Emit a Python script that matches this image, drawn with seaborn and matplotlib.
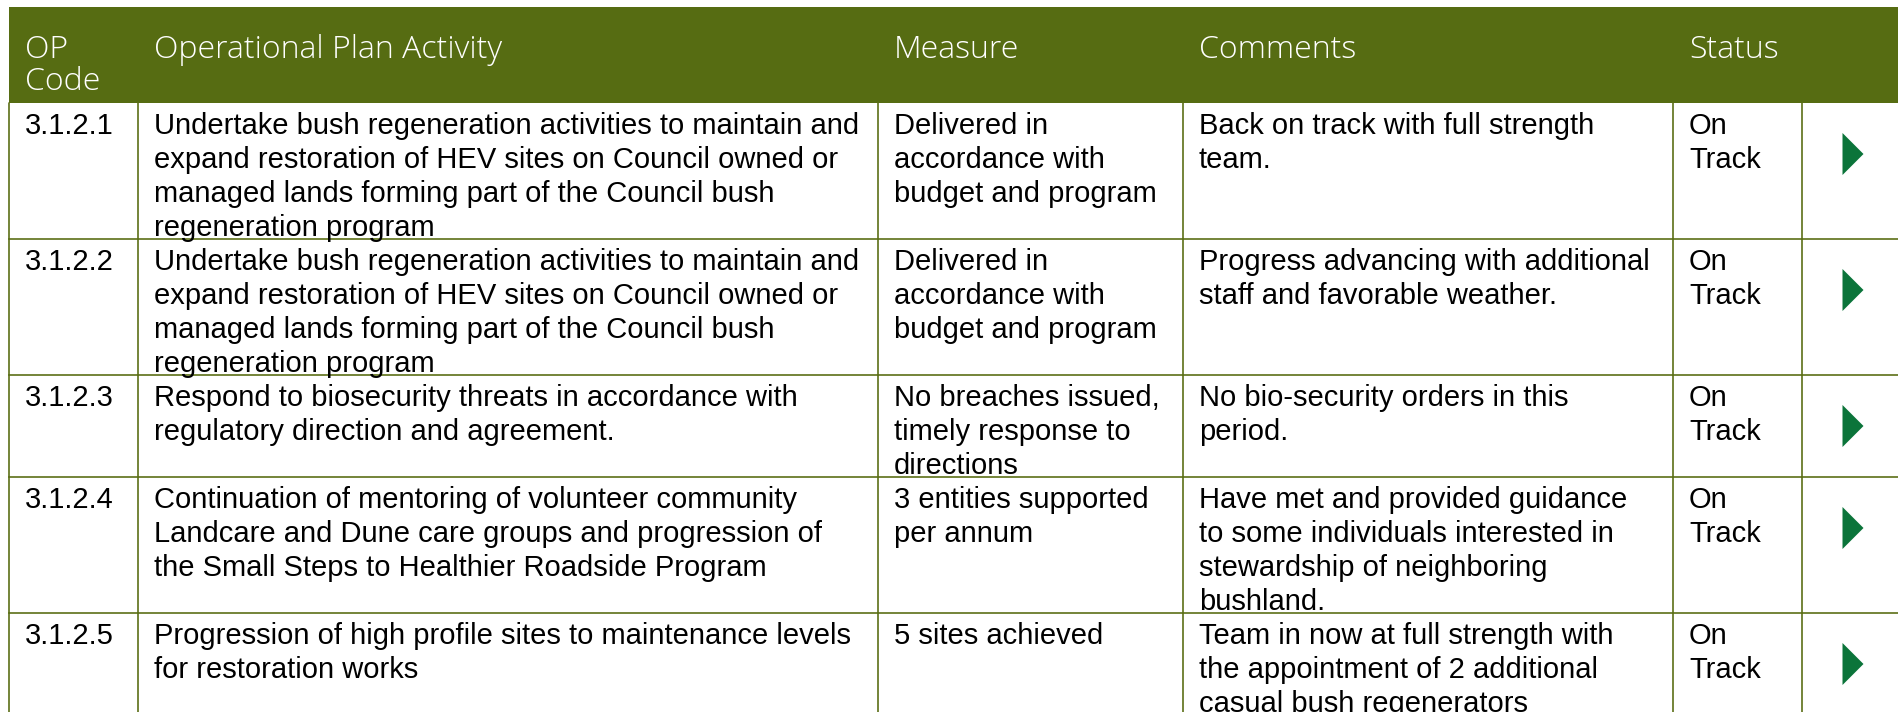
import matplotlib
matplotlib.use("Agg")
import matplotlib.pyplot as plt
import seaborn as sns
import pandas as pd

W, H = 1898, 712
HEADER_GREEN = "#566c12"
LINE_GREEN = "#5c7016"
ARROW_GREEN = "#0b743a"

# table content
headers = ["OP\nCode", "Operational Plan Activity", "Measure", "Comments", "Status"]
codes = ["3.1.2.1", "3.1.2.2", "3.1.2.3", "3.1.2.4", "3.1.2.5"]
activities = [
    "Undertake bush regeneration activities to maintain and\nexpand restoration of HEV sites on Council owned or\nmanaged lands forming part of the Council bush\nregeneration program",
    "Undertake bush regeneration activities to maintain and\nexpand restoration of HEV sites on Council owned or\nmanaged lands forming part of the Council bush\nregeneration program",
    "Respond to biosecurity threats in accordance with\nregulatory direction and agreement.",
    "Continuation of mentoring of volunteer community\nLandcare and Dune care groups and progression of\nthe Small Steps to Healthier Roadside Program",
    "Progression of high profile sites to maintenance levels\nfor restoration works",
]
measures = [
    "Delivered in\naccordance with\nbudget and program",
    "Delivered in\naccordance with\nbudget and program",
    "No breaches issued,\ntimely response to\ndirections",
    "3 entities supported\nper annum",
    "5 sites achieved",
]
comments = [
    "Back on track with full strength\nteam.",
    "Progress advancing with additional\nstaff and favorable weather.",
    "No bio-security orders in this\nperiod.",
    "Have met and provided guidance\nto some individuals interested in\nstewardship of neighboring\nbushland.",
    "Team in now at full strength with\nthe appointment of 2 additional\ncasual bush regenerators",
]
statuses = ["On\nTrack", "On\nTrack", "On\nTrack", "On\nTrack", "On\nTrack"]

# layout (pixels)
col_edges = [9, 138, 878, 1183, 1673, 1802, 1930]
pad_x = 16
header_top, header_bottom = 7, 103
line_h = 34
first_base = 31

sns.set_theme(style="white")
plt.rcParams["font.family"] = ["Liberation Sans", "DejaVu Sans"]

fig = plt.figure(figsize=(W / 100, H / 100), dpi=100)
ax = fig.add_axes([0, 0, 1, 1])

# header band
ax.fill_between([col_edges[0], W], header_top, header_bottom, color=HEADER_GREEN, lw=0)
for i, h in enumerate(headers):
    for k, line in enumerate(h.split("\n")):
        ax.text(col_edges[i] + pad_x, header_top + 51 + k * 32, line, color="white",
                fontsize=23, family=["Open Sans", "DejaVu Sans"], fontweight="light",
                va="baseline", ha="left")

table = pd.DataFrame({"code": codes, "activity": activities, "measure": measures,
                      "comment": comments, "status": statuses})
table["lines"] = table[["code", "activity", "measure", "comment", "status"]].apply(
    lambda r: max(s.count("\n") + 1 for s in r), axis=1)
table["top"] = header_bottom + (table["lines"] * line_h).cumsum().shift(fill_value=0)
table["bottom"] = table["top"] + table["lines"] * line_h

for _, row in table.iterrows():
    cells = [row["code"], row["activity"], row["measure"], row["comment"], row["status"]]
    for i, cell in enumerate(cells):
        for k, line in enumerate(cell.split("\n")):
            ax.text(col_edges[i] + pad_x, row["top"] + first_base + k * line_h, line,
                    color="black", fontsize=21, family=["Liberation Sans", "DejaVu Sans"],
                    va="baseline", ha="left")
    ax.plot([col_edges[0], W], [row["bottom"], row["bottom"]], color=LINE_GREEN, lw=1.2)
    for x in col_edges[:-1]:
        ax.plot([x, x], [row["top"], row["bottom"]], color=LINE_GREEN, lw=1.2)

# status arrows
table["ax"] = col_edges[5] + 51
table["ay"] = table["top"] + 51
arrow = [(-0.5, -1), (-0.5, 1), (0.5, 0)]
sns.scatterplot(data=table, x="ax", y="ay", marker=arrow, s=914, color=ARROW_GREEN,
                edgecolor="none", ax=ax, legend=False)
ax.set_xlim(0, W)
ax.set_ylim(H, 0)
ax.axis("off")

fig.savefig("out.png", dpi=100)
